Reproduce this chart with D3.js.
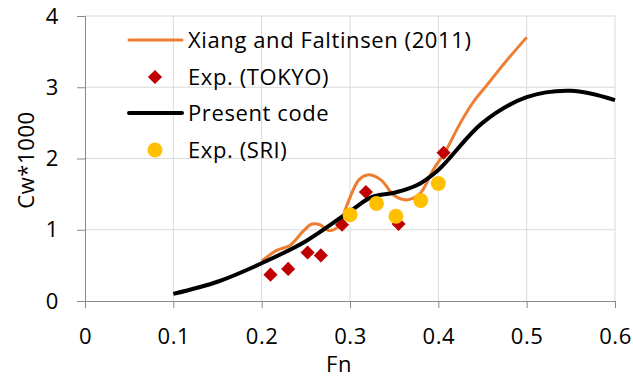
<!DOCTYPE html>
<html>
<head>
<meta charset="utf-8">
<script src="https://cdn.jsdelivr.net/npm/d3@7"></script>
<style>
  body { margin: 0; background: #fff; }
  text { font-family: "Open Sans", sans-serif; fill: #000; letter-spacing: 0.6px; }
</style>
</head>
<body>
<div id="chart"></div>
<script>
// Xiang and Faltinsen (2011) curve
var xiangFn = [0.20, 0.217, 0.232, 0.247, 0.257, 0.266, 0.276, 0.287, 0.296, 0.31, 0.32, 0.335, 0.35, 0.365, 0.38, 0.394, 0.408, 0.425, 0.44, 0.455, 0.477, 0.50];
var xiangCw = [0.56, 0.71, 0.78, 0.98, 1.08, 1.07, 0.99, 1.05, 1.33, 1.70, 1.77, 1.70, 1.48, 1.42, 1.52, 1.84, 2.10, 2.50, 2.80, 3.03, 3.37, 3.70];

// Exp. (TOKYO)
var tokyoFn = [0.21, 0.23, 0.252, 0.267, 0.291, 0.318, 0.355, 0.406];
var tokyoCw = [0.37, 0.45, 0.68, 0.64, 1.07, 1.53, 1.08, 2.08];

// Present code
var presentFn = [0.10, 0.15, 0.20, 0.25, 0.30, 0.325, 0.35, 0.375, 0.40, 0.45, 0.50, 0.55, 0.60];
var presentCw = [0.10, 0.27, 0.53, 0.84, 1.26, 1.46, 1.52, 1.62, 1.84, 2.50, 2.86, 2.95, 2.82];

// Exp. (SRI)
var sriFn = [0.30, 0.33, 0.352, 0.38, 0.40];
var sriCw = [1.21, 1.37, 1.19, 1.41, 1.65];

var xTicks = [0, 0.1, 0.2, 0.3, 0.4, 0.5, 0.6];
var yTicks = [0, 1, 2, 3, 4];

var legendLabels = ['Xiang and Faltinsen (2011)', 'Exp. (TOKYO)', 'Present code', 'Exp. (SRI)'];

var width = 633, height = 381;
var margin = {left: 85, right: 18, top: 16, bottom: 80};

var orange = '#ED7D31', red = '#C00000', gold = '#FFC000';
var fontSize = '22px';

var svg = d3.select('#chart').append('svg')
    .attr('width', width)
    .attr('height', height);

var x = d3.scaleLinear().domain([0, 0.6]).range([margin.left, width - margin.right]);
var y = d3.scaleLinear().domain([0, 4]).range([height - margin.bottom, margin.top]);

// gridlines
svg.append('g').selectAll('line.h')
    .data(yTicks.slice(1))
    .enter().append('line')
    .attr('x1', x(0)).attr('x2', x(0.6))
    .attr('y1', function (d) { return y(d); })
    .attr('y2', function (d) { return y(d); })
    .style('stroke', '#d9d9d9').style('stroke-width', 1);
svg.append('g').selectAll('line.v')
    .data(xTicks.slice(1))
    .enter().append('line')
    .attr('y1', y(0)).attr('y2', y(4))
    .attr('x1', function (d) { return x(d); })
    .attr('x2', function (d) { return x(d); })
    .style('stroke', '#d9d9d9').style('stroke-width', 1);

// axes
var xAxis = svg.append('g')
    .attr('transform', 'translate(0,' + y(0) + ')')
    .call(d3.axisBottom(x).tickValues(xTicks).tickSizeOuter(0).tickSize(7).tickPadding(20)
        .tickFormat(function (d) { return d === 0 ? '0' : d3.format('.1f')(d); }));
var yAxis = svg.append('g')
    .attr('transform', 'translate(' + x(0) + ',0)')
    .call(d3.axisLeft(y).tickValues(yTicks).tickSizeOuter(0).tickSize(8).tickPadding(18)
        .tickFormat(d3.format('d')));

[xAxis, yAxis].forEach(function (a) {
    a.select('.domain').style('stroke', '#898989').style('stroke-width', 1);
    a.selectAll('.tick line').style('stroke', '#898989');
    a.selectAll('.tick text')
        .style('font-family', '"Open Sans", sans-serif')
        .style('font-size', fontSize)
        .style('fill', '#000');
});

// axis titles
svg.append('text')
    .attr('x', x(0.3) - 11).attr('y', 372)
    .attr('text-anchor', 'middle')
    .style('font-size', fontSize)
    .text('Fn');
svg.append('text')
    .attr('transform', 'translate(34,' + 160 + ') rotate(-90)')
    .attr('text-anchor', 'middle')
    .style('font-size', fontSize)
    .text('Cw*1000');

// lines
var line = d3.line()
    .x(function (d) { return x(d[0]); })
    .y(function (d) { return y(d[1]); })
    .curve(d3.curveCatmullRom.alpha(0.5));

svg.append('path')
    .datum(d3.zip(xiangFn, xiangCw))
    .attr('d', line)
    .style('fill', 'none')
    .style('stroke', orange)
    .style('stroke-width', 3);

var diamond = d3.symbol().type(d3.symbolSquare).size(100);

svg.append('g').selectAll('path')
    .data(d3.zip(tokyoFn, tokyoCw))
    .enter().append('path')
    .attr('d', diamond)
    .attr('transform', function (d) { return 'translate(' + x(d[0]) + ',' + y(d[1]) + ') rotate(45)'; })
    .style('fill', red);

svg.append('path')
    .datum(d3.zip(presentFn, presentCw))
    .attr('d', line)
    .style('fill', 'none')
    .style('stroke', '#000')
    .style('stroke-width', 4);

svg.append('g').selectAll('circle')
    .data(d3.zip(sriFn, sriCw))
    .enter().append('circle')
    .attr('cx', function (d) { return x(d[0]); })
    .attr('cy', function (d) { return y(d[1]); })
    .attr('r', 7.5)
    .style('fill', gold);

// legend
var legend = svg.append('g');
var rowY = [40, 77, 113, 150];
legendLabels.forEach(function (lab, i) {
    var g = legend.append('g').attr('transform', 'translate(0,' + rowY[i] + ')');
    if (i === 0 || i === 2) {
        g.append('line')
            .attr('x1', 129).attr('x2', 182)
            .attr('y1', 0).attr('y2', 0)
            .style('stroke', i === 0 ? orange : '#000')
            .style('stroke-width', i === 0 ? 3 : 4)
            .style('stroke-linecap', 'round');
    } else if (i === 1) {
        g.append('path')
            .attr('d', diamond)
            .attr('transform', 'translate(155,0) rotate(45)')
            .style('fill', red);
    } else {
        g.append('circle')
            .attr('cx', 155).attr('cy', 0).attr('r', 7.5)
            .style('fill', gold);
    }
    g.append('text')
        .attr('x', 188).attr('y', 0)
        .attr('dy', '0.35em')
        .style('font-size', fontSize)
        .text(lab);
});
</script>
</body>
</html>
